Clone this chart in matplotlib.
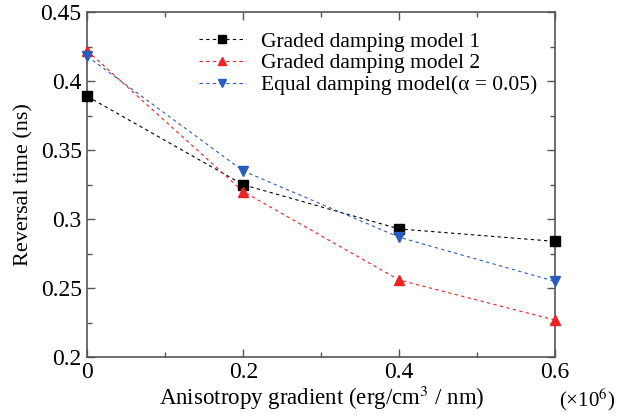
import matplotlib
matplotlib.use('Agg')
import matplotlib.pyplot as plt
from matplotlib.ticker import MultipleLocator

plt.rcParams['font.family'] = 'Liberation Serif'
plt.rcParams['mathtext.fontset'] = 'stix'

# data
gradient = [0, 0.2, 0.4, 0.6]
graded_1 = [0.389, 0.325, 0.293, 0.284]
graded_2 = [0.422, 0.320, 0.256, 0.227]
equal_damping = [0.418, 0.335, 0.287, 0.255]

fig = plt.figure(figsize=(6.19, 4.18), dpi=100)
ax = fig.add_axes([0.141, 0.145, 0.756, 0.826])

ax.plot(gradient, graded_1, '--s', color='black', lw=0.8, ms=7,
        dashes=(3, 3), clip_on=False, zorder=3, label='Graded damping model 1')
ax.plot(gradient, graded_2, '--^', color='#ee2222', lw=0.8, ms=7,
        dashes=(3, 3), clip_on=False, zorder=3, label='Graded damping model 2')
ax.plot(gradient, equal_damping, '--v', color='#2a5cc0', lw=0.8, ms=7,
        dashes=(3, 3), clip_on=False, zorder=3,
        label='Equal damping model(\u03b1 = 0.05)')

ax.set_xlim(0, 0.6)
ax.set_ylim(0.2, 0.45)
ax.xaxis.set_minor_locator(MultipleLocator(0.1))
ax.yaxis.set_minor_locator(MultipleLocator(0.025))
ax.set_xticks(gradient)
ax.set_xticklabels(['0', '0.2', '0.4', '0.6'])
ax.set_yticks([0.2, 0.25, 0.3, 0.35, 0.4, 0.45])
ax.set_yticklabels(['0.2', '0.25', '0.3', '0.35', '0.4', '0.45'])

ax.tick_params(which='both', direction='in', top=True, right=True,
               labelsize=17, color='#555555', width=1.0)
ax.tick_params(which='major', length=6)
ax.tick_params(axis='x', pad=3)
ax.tick_params(axis='y', pad=4)
ax.tick_params(which='minor', length=3.5)
for s in ax.spines.values():
    s.set_color('#555555')
    s.set_linewidth(1.2)

ax.set_xlabel('Anisotropy gradient (erg/cm$^3$ / nm)', fontsize=16.5, labelpad=1)
ax.set_ylabel('Reversal time (ns)', fontsize=16, labelpad=5)
fig.text(0.993, 0.012, '(\u00d710$^6$)', fontsize=15, ha='right', va='bottom')

ax.legend(loc='upper center', bbox_to_anchor=(0.6, 1.0), frameon=False,
          fontsize=15.5, handlelength=2.2, handletextpad=0.7, labelspacing=0.08,
          markerscale=0.9)

fig.savefig('out.png', dpi=100)
